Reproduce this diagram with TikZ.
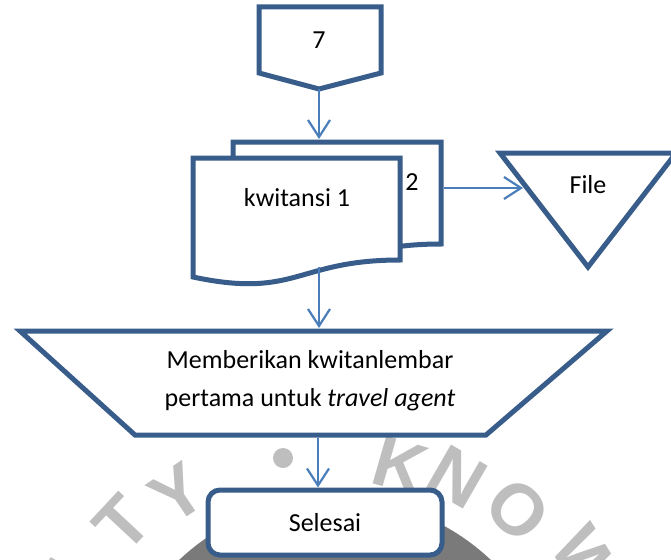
\documentclass[tikz,border=0pt]{standalone}
\usepackage{fontspec}
\setmainfont{Carlito}
\newfontfamily\wmfont{Liberation Sans}
\usetikzlibrary{arrows.meta}
\definecolor{bord}{RGB}{56,93,138}
\definecolor{arr}{RGB}{74,126,187}
\definecolor{wm}{RGB}{190,190,190}
\definecolor{wmdark}{RGB}{122,122,122}
\tikzset{
  shapeline/.style={draw=bord, line width=5pt, fill=white, line join=miter},
  flow/.style={draw=arr, line width=2.2pt, -{Straight Barb[length=17pt,width=22pt,line width=2.2pt]}},
  lbl/.style={font=\fontsize{26}{38}\selectfont, inner sep=0pt, align=center},
  wmletter/.style={text=wm, font=\wmfont\bfseries\fontsize{72}{72}\selectfont, inner sep=0pt}
}
\begin{document}
\begin{tikzpicture}[x=1pt,y=-1pt]
\useasboundingbox (0,0) rectangle (671,559);
% watermark
\begin{scope}
  \clip (0,0) rectangle (671,559);
  \fill[wmdark] (335,725) circle (227);
  \node[wmletter, rotate=60] (wmI) at (70,574) {I};
  \node[wmletter, rotate=47] (wmT) at (122,524) {T};
  \node[wmletter, rotate=34] (wmY) at (178,494) {Y};
  \fill[wm] (283,458) circle (10);
  \node[wmletter, rotate=-16] (wmK) at (400,466) {K};
  \node[wmletter, rotate=-30] (wmN) at (457,477) {N};
  \node[wmletter, rotate=-44] (wmO) at (518,510) {O};
  \node[wmletter, rotate=-58] (wmW) at (588,562) {W};
\end{scope}
% off-page connector
\draw[shapeline] (259,7) -- (381,7) -- (381,73) -- (319,89) -- (259,73) -- cycle;
\node[lbl] (n7) at (319,40) {7};
\coordinate (c7) at (319,89);
% documents
\draw[shapeline] (233,142) -- (441,142) -- (441,244) .. controls (337,244) and (337,283) .. (233,261) -- cycle;
\draw[shapeline] (193,158) -- (400,158) -- (400,260) .. controls (296.5,260) and (296.5,299) .. (193,277) -- cycle;
\coordinate (docTop) at (319,139);
\coordinate (docR) at (443.5,188);
\coordinate (docB) at (319,267);
\node[lbl] (kw1) at (297,198) {kwitansi 1};
\node[lbl] (kw2) at (412,182) {2};
% file triangle
\draw[shapeline] (500,153) -- (676,153) -- (588,267) -- cycle;
\node[lbl] (file) at (588,185) {File};
\coordinate (fileL) at (523,188);
% trapezoid
\draw[shapeline] (20,331) -- (607,331) -- (486,435) -- (135,435) -- cycle;
\node[lbl] (tz) at (310,381) {Memberikan kwitanlembar\\pertama untuk \textit{travel agent}};
\coordinate (tzTop) at (319,328);
\coordinate (tzBot) at (318,437.5);
% terminator
\node[shapeline, rounded corners=12pt, minimum width=234pt, minimum height=65pt, inner sep=0pt, font=\fontsize{26}{30}\selectfont] (sel) at (325,522.5) {Selesai};
% connectors
\draw[flow] (c7) -- (docTop);
\draw[flow] (docR) -- (fileL);
\draw[flow] (docB) -- (tzTop);
\draw[flow] (tzBot) -- (tzBot |- sel.north);
\end{tikzpicture}
\end{document}
